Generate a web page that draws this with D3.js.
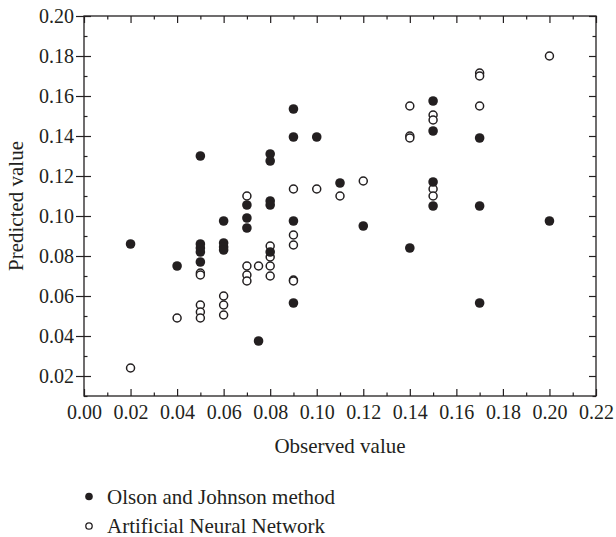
<!DOCTYPE html>
<html>
<head>
<meta charset="utf-8">
<script src="https://cdn.jsdelivr.net/npm/d3@7/dist/d3.min.js"></script>
<style>
  html, body { margin: 0; padding: 0; background: #fff; }
  svg { display: block; }
</style>
</head>
<body>
<svg id="chart" width="616" height="537"></svg>
<script>
// Observed vs predicted values for the two prediction methods
const olsonObserved = [0.02, 0.04, 0.05, 0.05, 0.05, 0.05, 0.05, 0.06, 0.06, 0.06, 0.06,
  0.07, 0.07, 0.07, 0.075, 0.08, 0.08, 0.08, 0.08, 0.08, 0.09, 0.09, 0.09, 0.09,
  0.10, 0.11, 0.12, 0.14, 0.15, 0.15, 0.15, 0.15, 0.17, 0.17, 0.17, 0.20];
const olsonPredicted = [0.086, 0.075, 0.130, 0.086, 0.084, 0.082, 0.077, 0.0975, 0.0865, 0.0845, 0.083,
  0.1055, 0.099, 0.094, 0.0375, 0.131, 0.1275, 0.1075, 0.1055, 0.082, 0.1535, 0.1395, 0.0975, 0.0565,
  0.1395, 0.1165, 0.095, 0.084, 0.1575, 0.1425, 0.117, 0.105, 0.139, 0.105, 0.0565, 0.0975];

const annObserved = [0.02, 0.04, 0.05, 0.05, 0.05, 0.05, 0.05, 0.06, 0.06, 0.06,
  0.07, 0.07, 0.07, 0.07, 0.075, 0.08, 0.08, 0.08, 0.08, 0.09, 0.09, 0.09, 0.09, 0.09,
  0.10, 0.11, 0.12, 0.14, 0.14, 0.14, 0.15, 0.15, 0.15, 0.15, 0.17, 0.17, 0.17, 0.20];
const annPredicted = [0.024, 0.049, 0.0715, 0.0705, 0.0555, 0.052, 0.049, 0.060, 0.0555, 0.0505,
  0.110, 0.075, 0.0705, 0.0675, 0.075, 0.085, 0.0795, 0.075, 0.070, 0.1135, 0.0905, 0.0855, 0.068, 0.0675,
  0.1135, 0.110, 0.1175, 0.155, 0.140, 0.139, 0.1505, 0.148, 0.1135, 0.110, 0.1715, 0.170, 0.155, 0.180];

const xTickValues = [0.00, 0.02, 0.04, 0.06, 0.08, 0.10, 0.12, 0.14, 0.16, 0.18, 0.20, 0.22];
const xMinorValues = [0.01, 0.03, 0.05, 0.07, 0.09, 0.11, 0.13, 0.15, 0.17, 0.19, 0.21];
const yTickValues = [0.02, 0.04, 0.06, 0.08, 0.10, 0.12, 0.14, 0.16, 0.18, 0.20];
const yMinorValues = [0.01, 0.03, 0.05, 0.07, 0.09, 0.11, 0.13, 0.15, 0.17, 0.19];

const seriesNames = ["Olson and Johnson method", "Artificial Neural Network"];

const FONT = "Liberation Serif, DejaVu Serif, serif";
const margin = { left: 84, right: 20, top: 16, bottom: 141 };
const W = 616, H = 537;
const x = d3.scaleLinear().domain([0, 0.22]).range([margin.left, W - margin.right]);
const y = d3.scaleLinear().domain([0.01, 0.20]).range([H - margin.bottom, margin.top]);

const svg = d3.select("#chart").attr("font-family", FONT);
const fmt = d3.format(".2f");
const ink = "#231f20";

// Plot frame
svg.append("rect")
  .attr("x", x(0)).attr("y", y(0.20))
  .attr("width", x(0.22) - x(0)).attr("height", y(0.01) - y(0.20))
  .attr("fill", "none").attr("stroke", ink).attr("stroke-width", 1.3);

function styleAxis(g) {
  g.attr("font-family", FONT).attr("font-size", 20);
  g.select(".domain").remove();
  g.selectAll("line").attr("stroke", ink).attr("stroke-width", 1.2);
  g.selectAll("text").attr("fill", ink).attr("font-family", FONT).attr("font-size", 20);
}

// Bottom axis: inward ticks with labels
svg.append("g").attr("transform", `translate(0,${y(0.01)})`)
  .call(d3.axisBottom(x).tickValues(xTickValues).tickFormat(fmt).tickSize(-7).tickPadding(9))
  .call(styleAxis);
svg.append("g").attr("transform", `translate(0,${y(0.01)})`)
  .call(d3.axisBottom(x).tickValues(xMinorValues).tickFormat("").tickSize(-3.5))
  .call(styleAxis);

// Top axis: inward ticks only
svg.append("g").attr("transform", `translate(0,${y(0.20)})`)
  .call(d3.axisTop(x).tickValues(xTickValues).tickFormat("").tickSize(-7))
  .call(styleAxis);
svg.append("g").attr("transform", `translate(0,${y(0.20)})`)
  .call(d3.axisTop(x).tickValues(xMinorValues).tickFormat("").tickSize(-3.5))
  .call(styleAxis);

// Left axis: major ticks cross the frame line
const leftAxis = svg.append("g").attr("transform", `translate(${x(0)},0)`)
  .call(d3.axisLeft(y).tickValues(yTickValues).tickFormat(fmt).tickSize(8).tickPadding(2))
  .call(styleAxis);
leftAxis.selectAll(".tick line").attr("x1", 7);
svg.append("g").attr("transform", `translate(${x(0)},0)`)
  .call(d3.axisLeft(y).tickValues(yMinorValues).tickFormat("").tickSize(-3.5))
  .call(styleAxis);

// Right axis: inward ticks only
svg.append("g").attr("transform", `translate(${x(0.22)},0)`)
  .call(d3.axisRight(y).tickValues(yTickValues).tickFormat("").tickSize(-7))
  .call(styleAxis);
svg.append("g").attr("transform", `translate(${x(0.22)},0)`)
  .call(d3.axisRight(y).tickValues(yMinorValues).tickFormat("").tickSize(-3.5))
  .call(styleAxis);

// Markers
const olson = olsonObserved.map((v, i) => ({ obs: v, pred: olsonPredicted[i] }));
const ann = annObserved.map((v, i) => ({ obs: v, pred: annPredicted[i] }));

svg.append("g").selectAll("circle").data(ann).join("circle")
  .attr("cx", d => x(d.obs)).attr("cy", d => y(d.pred)).attr("r", 4)
  .attr("fill", "#fff").attr("stroke", ink).attr("stroke-width", 1.5);

svg.append("g").selectAll("circle").data(olson).join("circle")
  .attr("cx", d => x(d.obs)).attr("cy", d => y(d.pred)).attr("r", 4.8)
  .attr("fill", ink);

// Axis titles
svg.append("text")
  .attr("x", (x(0) + x(0.22)) / 2).attr("y", 453)
  .attr("text-anchor", "middle").attr("font-size", 21).attr("fill", ink)
  .text("Observed value");

svg.append("text")
  .attr("transform", `translate(23,${(y(0.01) + y(0.20)) / 2}) rotate(-90)`)
  .attr("text-anchor", "middle").attr("font-size", 21).attr("fill", ink)
  .text("Predicted value");

// Legend
const legend = svg.append("g");
const legendRows = [
  { name: seriesNames[0], filled: true, cy: 496.5, base: 503.5 },
  { name: seriesNames[1], filled: false, cy: 526, base: 532.5 }
];
legendRows.forEach(r => {
  legend.append("circle")
    .attr("cx", 89).attr("cy", r.cy).attr("r", r.filled ? 3.8 : 3.2)
    .attr("fill", r.filled ? ink : "#fff")
    .attr("stroke", ink).attr("stroke-width", r.filled ? 0 : 1.3);
  legend.append("text")
    .attr("x", 107).attr("y", r.base).attr("font-size", 21).attr("fill", ink)
    .text(r.name);
});
</script>
</body>
</html>
